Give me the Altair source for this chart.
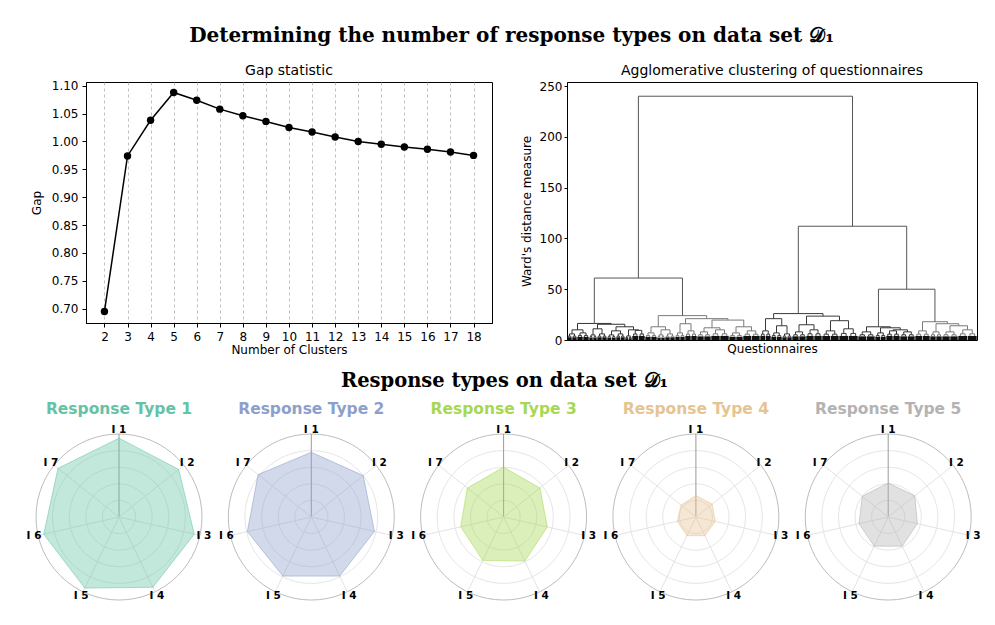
import math
import altair as alt
import pandas as pd

# ---------------- data ----------------
n_clusters = list(range(2, 19))
gap_values = [0.695, 0.974, 1.038, 1.088, 1.074, 1.058, 1.046, 1.036, 1.025,
              1.017, 1.008, 1.000, 0.995, 0.990, 0.986, 0.981, 0.975]
gap_ticks = [0.70, 0.75, 0.80, 0.85, 0.90, 0.95, 1.00, 1.05, 1.10]

# dendrogram: (merge height, left, right); leaf groups = [leaf count, merge height]
A1 = (16.3, (10, [10, 6], [12, 7]),
      (15.5, (11, [8, 5], [10, 6]),
       (13, (9, [9, 5], [9, 6]), (10, [7, 4], [13, 9.5]))))
A2 = (24, (13, [12, 7], (10, [8, 5], [10, 6])),
      (21, (16, [10, 7], [12, 9]),
       (19.6, (12, [14, 8], [18, 10]), (13, [14, 7], [17, 9]))))
B1 = (26, (21, [11, 9], (14, [11, 7], [10, 6])),
      (23.5, (15, [14, 8], [16, 10]), (19, [17, 9], [19, 11])))
B2L = (13, [17, 8], (12, [11, 7], (10, [14, 9], [15, 8])))
B2R = (18, [15, 9], (16, [12, 8], (14, [16, 8], [19, 10])))
clusters = {"A1": A1, "A2": A2, "B1": B1, "B2L": B2L, "B2R": B2R}
cluster_colors = {"A1": "#333333", "A2": "#7a7a7a", "B1": "#3a3a3a",
                  "B2L": "#333333", "B2R": "#7a7a7a"}
upper_tree = (240, (61, "A1", "A2"), (112, "B1", (50, "B2L", "B2R")))
den_ticks = [0, 50, 100, 150, 200, 250]

item_labels = ["I 1", "I 2", "I 3", "I 4", "I 5", "I 6", "I 7"]
type_names = ["Response Type 1", "Response Type 2", "Response Type 3",
              "Response Type 4", "Response Type 5"]
type_colors = ["#66c2a5", "#8da0cb", "#a6d854", "#e5c494", "#b3b3b3"]
rt1 = [0.95, 0.92, 0.93, 0.94, 0.95, 0.93, 0.94]
rt2 = [0.78, 0.80, 0.78, 0.79, 0.79, 0.79, 0.82]
rt3 = [0.60, 0.56, 0.54, 0.59, 0.58, 0.53, 0.56]
rt4 = [0.26, 0.25, 0.24, 0.25, 0.25, 0.23, 0.23]
rt5 = [0.41, 0.41, 0.36, 0.39, 0.39, 0.36, 0.40]
ring_levels = [0.2, 0.4, 0.6, 0.8, 1.0]

# ---------------- layout constants ----------------
GAP_W, GAP_H = 406, 241
DEN_W, DEN_H = 410, 258
PX = 83.0                # pixels per radial unit in the radar row
RAD_W, RAD_H = 891, 206
STEP = 192.3 / PX        # distance between radar centres
X_LEFT = -33.0 / PX
Y_TOP = 120.0 / PX
LABEL_R = 1.05
TITLE_Y = 1.30

# ---------------- gap statistic ----------------
gap_df = pd.DataFrame({"k": n_clusters, "gap": gap_values})
gx = alt.X("k:Q", scale=alt.Scale(domain=[1.2, 18.8], nice=False, zero=False),
           axis=alt.Axis(values=n_clusters, format="d", title="Number of Clusters",
                         grid=True, gridDash=[3, 3], gridColor="#b0b0b0", gridWidth=0.8,
                         labelPadding=4, titlePadding=2))
gy = alt.Y("gap:Q", scale=alt.Scale(domain=[0.6743, 1.1067], nice=False, zero=False),
           axis=alt.Axis(values=gap_ticks, format=".2f", title="Gap", grid=False,
                         labelPadding=4, titlePadding=8))
gap_line = alt.Chart(gap_df).mark_line(color="black", strokeWidth=1.5).encode(x=gx, y=gy)
gap_pts = alt.Chart(gap_df).mark_point(filled=True, color="black", size=55, opacity=1).encode(x=gx, y=gy)
gap = alt.layer(gap_line, gap_pts).properties(
    width=GAP_W, height=GAP_H,
    title=alt.TitleParams("Gap statistic", fontSize=14, fontWeight="normal",
                          anchor="middle", offset=2, color="black"))

# ---------------- dendrogram ----------------
segs, blobs = [], []


def build(node, start, color):
    if isinstance(node, str):
        return build(clusters[node], start, cluster_colors[node])
    if isinstance(node, list):
        n, h = node
        half = n / 2.0
        base = min(4.0, h * 0.45)
        centres = []
        for s in (start, start + half):
            q1, q2 = s + half * 0.25, s + half * 0.75
            hm = base + (h - base) * 0.35
            segs.extend([(q1, base, q1, hm, color), (q1, hm, q2, hm, color), (q2, base, q2, hm, color)])
            blobs.append((s + 0.3, s + half - 0.3, base))
            centres.append(((q1 + q2) / 2.0, hm))
        (c1, h1), (c2, h2) = centres
        segs.extend([(c1, h1, c1, h, color), (c1, h, c2, h, color), (c2, h2, c2, h, color)])
        return (c1 + c2) / 2.0, h, start + n
    h, left, right = node
    xl, hl, mid = build(left, start, color)
    xr, hr, end = build(right, mid, color)
    segs.extend([(xl, hl, xl, h, color), (xl, h, xr, h, color), (xr, hr, xr, h, color)])
    return (xl + xr) / 2.0, h, end


_, _, n_leaves = build(upper_tree, 0.0, "#555555")
seg_df = pd.DataFrame(segs, columns=["x", "y", "x2", "y2", "c"])
blob_df = pd.DataFrame(blobs, columns=["x", "x2", "h"])
blob_df["z"] = 0.0

dxs = alt.Scale(domain=[0, n_leaves], nice=False, zero=False)
dys = alt.Scale(domain=[0, 254], nice=False)
links = alt.Chart(seg_df).mark_rule(strokeWidth=1).encode(
    x=alt.X("x:Q", scale=dxs, axis=alt.Axis(title="Questionnaires", labels=False, ticks=False,
                                             domain=False, grid=False, titlePadding=3)),
    x2="x2:Q",
    y=alt.Y("y:Q", scale=dys, axis=alt.Axis(values=den_ticks, title="Ward's distance measure",
                                             grid=False, tickSize=3, labelPadding=2, titlePadding=6)),
    y2="y2:Q",
    color=alt.Color("c:N", scale=None))
leafmass = alt.Chart(blob_df).mark_rect(color="#111111").encode(
    x=alt.X("x:Q", scale=dxs), x2="x2:Q", y=alt.Y("z:Q", scale=dys), y2="h:Q")
den = alt.layer(leafmass, links).properties(
    width=DEN_W, height=DEN_H,
    title=alt.TitleParams("Agglomerative clustering of questionnaires", fontSize=14,
                          fontWeight="normal", anchor="middle", offset=2, color="black"))

# ---------------- radar charts ----------------
profiles = [rt1, rt2, rt3, rt4, rt5]
n_items = len(item_labels)
poly_rows, ring_rows, spoke_rows, label_rows, title_rows = [], [], [], [], []
for k, (name, col, vals) in enumerate(zip(type_names, type_colors, profiles)):
    cx = k * STEP
    for i, (lab, v) in enumerate(zip(item_labels, vals)):
        a = 2 * math.pi * i / n_items
        poly_rows.append({"type": name, "col": col, "o": i,
                          "x": cx + v * math.sin(a), "y": v * math.cos(a)})
        spoke_rows.append({"x": cx, "y": 0.0, "x2": cx + math.sin(a), "y2": math.cos(a),
                           "c": "#9a9a9a" if i == 0 else "#e3e3e3"})
        label_rows.append({"x": cx + LABEL_R * math.sin(a), "y": LABEL_R * math.cos(a), "t": lab})
    for r in ring_levels:
        ring_rows.append({"x": cx, "y": 0.0, "r": r,
                          "c": "#bdbdbd" if r == ring_levels[-1] else "#e6e6e6"})
    title_rows.append({"x": cx, "y": TITLE_Y, "t": name, "col": col})

poly_df = pd.DataFrame(poly_rows)
ring_df = pd.DataFrame(ring_rows)
spoke_df = pd.DataFrame(spoke_rows)
label_df = pd.DataFrame(label_rows)
title_df = pd.DataFrame(title_rows)

rxs = alt.Scale(domain=[X_LEFT, X_LEFT + RAD_W / PX], nice=False, zero=False)
rys = alt.Scale(domain=[Y_TOP - RAD_H / PX, Y_TOP], nice=False, zero=False)
RX = alt.X("x:Q", scale=rxs, axis=None)
RY = alt.Y("y:Q", scale=rys, axis=None)

# symbol size is the area of the bounding square: (2 r)^2
rings = alt.Chart(ring_df).mark_point(filled=False, shape="circle", opacity=1, strokeWidth=1).encode(
    x=RX, y=RY,
    size=alt.Size("r:Q", scale=alt.Scale(type="pow", exponent=2, domain=[0, 1],
                                          range=[0, 4 * PX * PX]), legend=None),
    stroke=alt.Stroke("c:N", scale=None))
spokes = alt.Chart(spoke_df).mark_rule(strokeWidth=1).encode(
    x=RX, y=RY, x2="x2:Q", y2="y2:Q", color=alt.Color("c:N", scale=None))
polys = alt.Chart(poly_df).mark_line(interpolate="linear-closed", strokeWidth=1,
                                     fillOpacity=0.4, strokeOpacity=0.55).encode(
    x=RX, y=RY, order="o:Q", detail="type:N",
    fill=alt.Fill("col:N", scale=None), stroke=alt.Stroke("col:N", scale=None))
labels = alt.Chart(label_df).mark_text(fontSize=10.5, fontWeight="bold", color="black",
                                       font="DejaVu Sans").encode(x=RX, y=RY, text="t:N")
titles = alt.Chart(title_df).mark_text(fontSize=15.5, fontWeight="bold", font="DejaVu Sans").encode(
    x=RX, y=RY, text="t:N", color=alt.Color("col:N", scale=None))

radar = alt.layer(rings, spokes, polys, labels, titles).properties(
    width=RAD_W, height=RAD_H, view=alt.ViewBackground(stroke=None),
    title=alt.TitleParams("Response types on data set \U0001D49F\u2081", font="DejaVu Serif",
                          fontSize=19.5, fontWeight="bold", anchor="middle", offset=6,
                          color="black", dx=-27))

top = alt.hconcat(gap, den, spacing=75, bounds="flush")
chart = alt.vconcat(
    top, radar, spacing=14,
    title=alt.TitleParams("Determining the number of response types on data set \U0001D49F\u2081",
                          font="DejaVu Serif", fontSize=20, fontWeight="bold",
                          anchor="middle", offset=17, color="black", dx=8),
).properties(
    padding={"left": 18, "top": 18, "right": 0, "bottom": 0},
).configure(font="DejaVu Sans").configure_view(stroke="black", strokeWidth=1).configure_axis(
    labelFont="DejaVu Sans", titleFont="DejaVu Sans", labelFontSize=12, titleFontSize=12,
    titleFontWeight="normal", labelColor="black", titleColor="black", tickColor="black",
    domainColor="black", tickSize=4,
)

chart.save("out.html", embed_options={"renderer": "svg", "actions": False})
